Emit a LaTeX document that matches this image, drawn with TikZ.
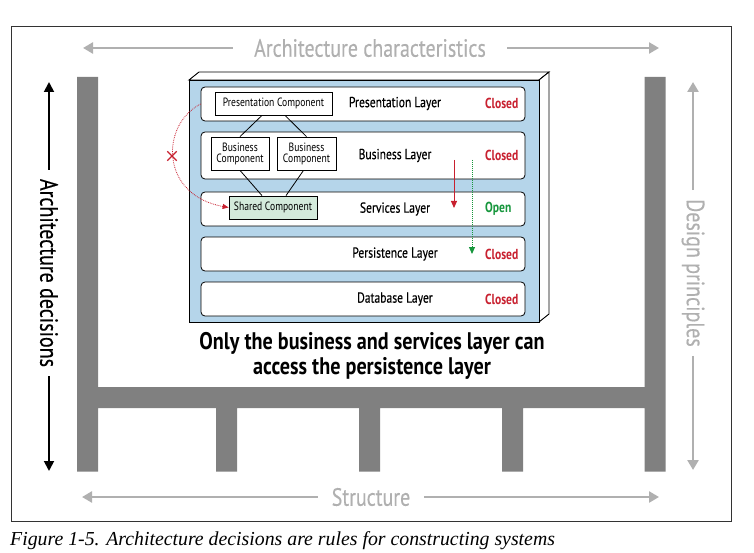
\documentclass[tikz,border=0pt]{standalone}
\usepackage{fontspec}
\usetikzlibrary{arrows.meta,shapes.misc,calc,shadows}
\newfontfamily\dfont{PT Sans}[FakeStretch=0.8]
\newfontfamily\dfontm{PT Sans}[FakeStretch=0.8,FakeBold=0.35]
\newfontfamily\dfontb{PT Sans}[FakeStretch=0.84]
\newfontfamily\capfont{Liberation Serif}
\definecolor{struct}{HTML}{808080}
\definecolor{lgray}{HTML}{B0B0B0}
\definecolor{boxblue}{HTML}{B5D5EA}
\definecolor{cred}{HTML}{C8202F}
\definecolor{cgreen}{HTML}{16963C}
\definecolor{sharedfill}{HTML}{D3EADB}
\tikzset{
  grayarrow/.style={draw=lgray, line width=2.5pt, -{Triangle[length=10pt,width=11pt]}},
  blackarrow/.style={draw=black, line width=1.8pt, -{Triangle[length=10pt,width=10pt]}},
  bigfont/.style={font=\dfontm\fontsize{25}{28}\selectfont, inner sep=0pt},
  graytext/.style={bigfont, text=lgray},
  layerbox/.style={draw=black, line width=0.8pt, fill=white, rounded corners=4pt, minimum width=324pt, inner sep=0pt},
  layerlabel/.style={font=\dfontm\fontsize{14.5}{16}\selectfont, inner sep=0pt},
  status/.style={font=\dfont\bfseries\fontsize{14.5}{16}\selectfont, inner sep=0pt, anchor=west},
  compbox/.style={draw=black, line width=0.8pt, fill=white, inner sep=0pt, align=center,
     font=\dfont\fontsize{12}{11}\selectfont, drop shadow={shadow xshift=1.2pt, shadow yshift=-1.2pt, fill=black, opacity=1}},
}
\begin{document}
\begin{tikzpicture}[x=1pt,y=-1pt]
\useasboundingbox (0,0) rectangle (754,553);
% frame
\draw[line width=0.9pt, draw=black!80] (11,26) rectangle (731,521);

% structure
\fill[struct] (77,77) -- (98,77) -- (98,387) -- (644.5,387) -- (644.5,77) -- (665.5,77) -- (665.5,471.5)
  -- (644.5,471.5) -- (644.5,408) -- (523,408) -- (523,471.5) -- (502,471.5) -- (502,408)
  -- (380,408) -- (380,471.5) -- (359,471.5) -- (359,408) -- (237,408) -- (237,471.5)
  -- (216,471.5) -- (216,408) -- (98,408) -- (98,471.5) -- (77,471.5) -- cycle;

% architecture characteristics
\node[graytext] (ac) at (370,48) {Architecture characteristics};
\coordinate (acL) at (83,48);
\coordinate (acR) at (659,48);
\draw[grayarrow, shorten <=21pt] (ac.west) -- (acL);
\draw[grayarrow, shorten <=21pt] (ac.east) -- (acR);

% structure label
\node[graytext] (st) at (371,497) {Structure};
\coordinate (stL) at (82,497);
\coordinate (stR) at (659,497);
\draw[grayarrow, shorten <=14pt] (st.west) -- (stL);
\draw[grayarrow, shorten <=14pt] (st.east) -- (stR);

% architecture decisions
\node[bigfont, rotate=-90] (ad) at (49,273) {Architecture decisions};
\coordinate (adT) at (49,82);
\coordinate (adB) at (49,471);
\draw[blackarrow, shorten <=9pt] (ad.west) -- (adT);
\draw[blackarrow, shorten <=9pt] (ad.east) -- (adB);

% design principles
\node[graytext, rotate=-90] (dp) at (693,273) {Design principles};
\coordinate (dpT) at (693,82);
\coordinate (dpB) at (693,470);
\draw[grayarrow, shorten <=9pt] (dp.west) -- (dpT);
\draw[grayarrow, shorten <=9pt] (dp.east) -- (dpB);

% 3D box
\draw[line width=0.9pt, fill=white] (189,80) -- (199,72) -- (549,72) -- (539,80) -- cycle;
\draw[line width=0.9pt, fill=white] (539,80) -- (549,72) -- (549,314) -- (539,322) -- cycle;
\draw[line width=0.9pt, fill=boxblue] (189,80) rectangle (539,322);

% layers
\node[layerbox, minimum height=34pt] (pl) at (363,104) {};
\node[layerbox, minimum height=47pt] (bl) at (363,155.5) {};
\node[layerbox, minimum height=34pt] (sl) at (363,209) {};
\node[layerbox, minimum height=34pt] (psl) at (363,254) {};
\node[layerbox, minimum height=34pt] (dl) at (363,299) {};

\node[layerlabel] (plt) at (395,103.5) {Presentation Layer};
\node[layerlabel] (blt) at (395,155.5) {Business Layer};
\node[layerlabel] (slt) at (395,209) {Services Layer};
\node[layerlabel] (pslt) at (395,254) {Persistence Layer};
\node[layerlabel] (dlt) at (395,299) {Database Layer};

\node[status, text=cred] (s1) at (485,103.5) {Closed};
\node[status, text=cred] (s2) at (485,155.5) {Closed};
\node[status, text=cgreen] (s3) at (485,209) {Open};
\node[status, text=cred] (s4) at (485,254) {Closed};
\node[status, text=cred] (s5) at (485,299) {Closed};

% components
\node[compbox, minimum width=117pt, minimum height=23pt] (pc) at (273.5,103.5) {Presentation Component};
\node[compbox, minimum width=58pt, minimum height=33pt] (bc1) at (240,153.5) {Business\\Component};
\node[compbox, minimum width=59pt, minimum height=33pt] (bc2) at (306.5,153.5) {Business\\Component};
\node[compbox, fill=sharedfill, minimum width=88pt, minimum height=23pt] (sc) at (273,207.5) {Shared Component};

\draw[line width=0.8pt] ([xshift=-11.5pt]pc.south) -- (bc1.north);
\draw[line width=0.8pt] ([xshift=11.5pt]pc.south) -- (bc2.north);
\draw[line width=0.8pt] (bc1.south) -- ([xshift=-11pt]sc.north);
\draw[line width=0.8pt] ([xshift=-3pt]bc2.south) -- ([xshift=13pt]sc.north);

% red dotted curve with cross
\draw[cred, line width=0.8pt, densely dotted, -{Triangle[length=6pt,width=5pt]}]
  (pl.west) .. controls (160,125) and (160,195) .. (sc.west);
\node[cross out, draw=cred, line width=1.3pt, minimum size=8pt, inner sep=0pt] (xm) at (172,156) {};

% access arrows
\coordinate (r1) at (454,160);
\coordinate (r2) at (454,208);
\draw[cred, line width=1pt, -{Triangle[length=7pt,width=6pt]}] (r1) -- (r2);
\coordinate (g1) at (472,160);
\coordinate (g2) at (472,254);
\draw[cgreen, line width=1pt, densely dotted, -{Triangle[length=7pt,width=6pt]}] (g1) -- (g2);

% statement
\node[font=\dfontb\bfseries\fontsize{24}{25}\selectfont, align=center, inner sep=0pt] (stmt) at (372,355.5)
  {Only the business and services layer can\\access the persistence layer};

% caption
\node[font=\capfont\itshape\fontsize{19.8}{21}\selectfont, anchor=west, inner sep=0pt] (cap) at (10,541)
  {Figure 1-5. Architecture decisions are rules for constructing systems};
\end{tikzpicture}
\end{document}
